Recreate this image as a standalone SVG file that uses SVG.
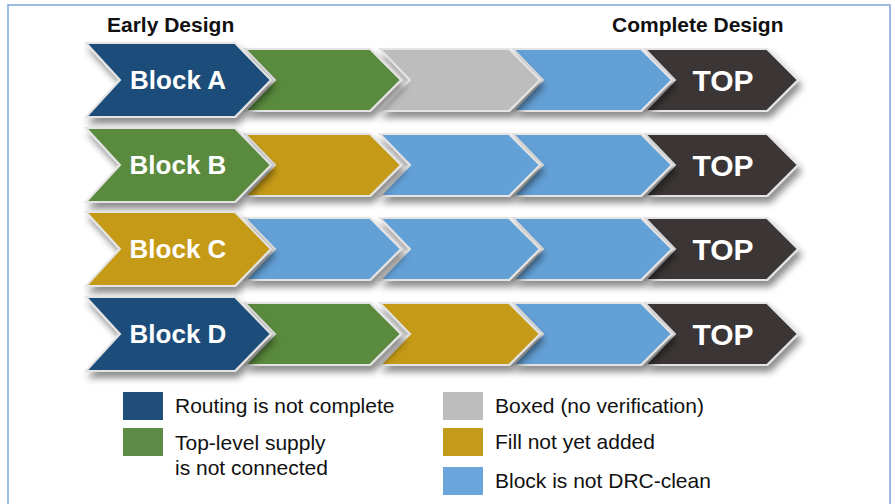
<svg xmlns="http://www.w3.org/2000/svg" width="895" height="504" viewBox="0 0 895 504">
<defs>
<filter id="sh" x="-10%" y="-20%" width="130%" height="160%">
<feDropShadow dx="3" dy="6" stdDeviation="3.5" flood-color="#000" flood-opacity="0.45"/>
</filter>
<linearGradient id="gloss" x1="0" y1="0" x2="0" y2="1">
<stop offset="0" stop-color="#fff" stop-opacity="0.06"/>
<stop offset="0.5" stop-color="#fff" stop-opacity="0.12"/>
<stop offset="1" stop-color="#000" stop-opacity="0.08"/>
</linearGradient>
</defs>
<style>
.ch{stroke:#e4e4e4;stroke-width:2;stroke-linejoin:miter;filter:url(#sh)}
.db{fill:#1f4e7a}.gr{fill:#5a8a3e}.gy{fill:#bdbdbd}.gd{fill:#c49a19}.lb{fill:#64a0d6}.tp{fill:#3a3534}
.lbl{font-family:"Liberation Sans",Arial,sans-serif;font-weight:bold;fill:#fff;text-anchor:middle}
.blk{font-size:26px}.top{font-size:30px}
.hd{font-family:"Liberation Sans",Arial,sans-serif;font-weight:bold;font-size:21px;fill:#111}
.lg{font-family:"Liberation Sans",Arial,sans-serif;font-size:21px;fill:#111}
</style>
<rect x="0" y="0" width="895" height="504" fill="#fff"/>
<rect x="8" y="5" width="882" height="510" fill="none" stroke="#7fa6d6" stroke-width="1.5"/>
<text class="hd" x="107" y="32">Early Design</text>
<text class="hd" x="612" y="32">Complete Design</text>

<!-- Row 1 -->
<g id="rowA">
<g id="A5"><path class="ch tp" d="M645,49 H767 L798,80 L767,111 H645 L675,80 Z"/><text class="lbl top" x="723" y="91">TOP</text></g>
<g id="A4"><path class="ch lb" d="M513,49 H641 L672,80 L641,111 H513 L543,80 Z"/></g>
<g id="A3"><path class="ch gy" d="M380,49 H509 L540,80 L509,111 H380 L410,80 Z"/></g>
<g id="A2"><path class="ch gr" d="M245,49 H370 L401,80 L370,111 H245 L275,80 Z"/></g>
<g id="A1"><path class="ch db" d="M86,43 H235 L271,80 L235,117 H86 L120,80 Z"/><text class="lbl blk" x="178" y="89">Block A</text></g>
</g>

<!-- Row 2 -->
<g id="rowB">
<g id="B5"><path class="ch tp" d="M645,134 H767 L798,165 L767,196 H645 L675,165 Z"/><text class="lbl top" x="723" y="176">TOP</text></g>
<g id="B4"><path class="ch lb" d="M513,134 H641 L672,165 L641,196 H513 L543,165 Z"/></g>
<g id="B3"><path class="ch lb" d="M380,134 H509 L540,165 L509,196 H380 L410,165 Z"/></g>
<g id="B2"><path class="ch gd" d="M245,134 H370 L401,165 L370,196 H245 L275,165 Z"/></g>
<g id="B1"><path class="ch gr" d="M86,128 H235 L271,165 L235,202 H86 L120,165 Z"/><text class="lbl blk" x="178" y="174">Block B</text></g>
</g>

<!-- Row 3 -->
<g id="rowC">
<g id="C5"><path class="ch tp" d="M645,218 H767 L798,249 L767,280 H645 L675,249 Z"/><text class="lbl top" x="723" y="260">TOP</text></g>
<g id="C4"><path class="ch lb" d="M513,218 H641 L672,249 L641,280 H513 L543,249 Z"/></g>
<g id="C3"><path class="ch lb" d="M380,218 H509 L540,249 L509,280 H380 L410,249 Z"/></g>
<g id="C2"><path class="ch lb" d="M245,218 H370 L401,249 L370,280 H245 L275,249 Z"/></g>
<g id="C1"><path class="ch gd" d="M86,212 H235 L271,249 L235,286 H86 L120,249 Z"/><text class="lbl blk" x="178" y="258">Block C</text></g>
</g>

<!-- Row 4 -->
<g id="rowD">
<g id="D5"><path class="ch tp" d="M645,303 H767 L798,334 L767,365 H645 L675,334 Z"/><text class="lbl top" x="723" y="345">TOP</text></g>
<g id="D4"><path class="ch lb" d="M513,303 H641 L672,334 L641,365 H513 L543,334 Z"/></g>
<g id="D3"><path class="ch gd" d="M380,303 H509 L540,334 L509,365 H380 L410,334 Z"/></g>
<g id="D2"><path class="ch gr" d="M245,303 H370 L401,334 L370,365 H245 L275,334 Z"/></g>
<g id="D1"><path class="ch db" d="M86,297 H235 L271,334 L235,371 H86 L120,334 Z"/><text class="lbl blk" x="178" y="343">Block D</text></g>
</g>

<!-- Legend -->
<g id="legend">
<rect class="db" x="123" y="392" width="40" height="28"/>
<text class="lg" x="175" y="413">Routing is not complete</text>
<rect x="123" y="428" width="40" height="28" fill="#5e8c46"/>
<text class="lg" x="175" y="450">Top-level supply</text>
<text class="lg" x="175" y="475">is not connected</text>
<rect class="gy" x="443" y="392" width="40" height="28"/>
<text class="lg" x="495" y="413">Boxed (no verification)</text>
<rect class="gd" x="443" y="428" width="40" height="28"/>
<text class="lg" x="495" y="449">Fill not yet added</text>
<rect x="443" y="467" width="40" height="28" fill="#6aa5db"/>
<text class="lg" x="495" y="488">Block is not DRC-clean</text>
</g>
</svg>
